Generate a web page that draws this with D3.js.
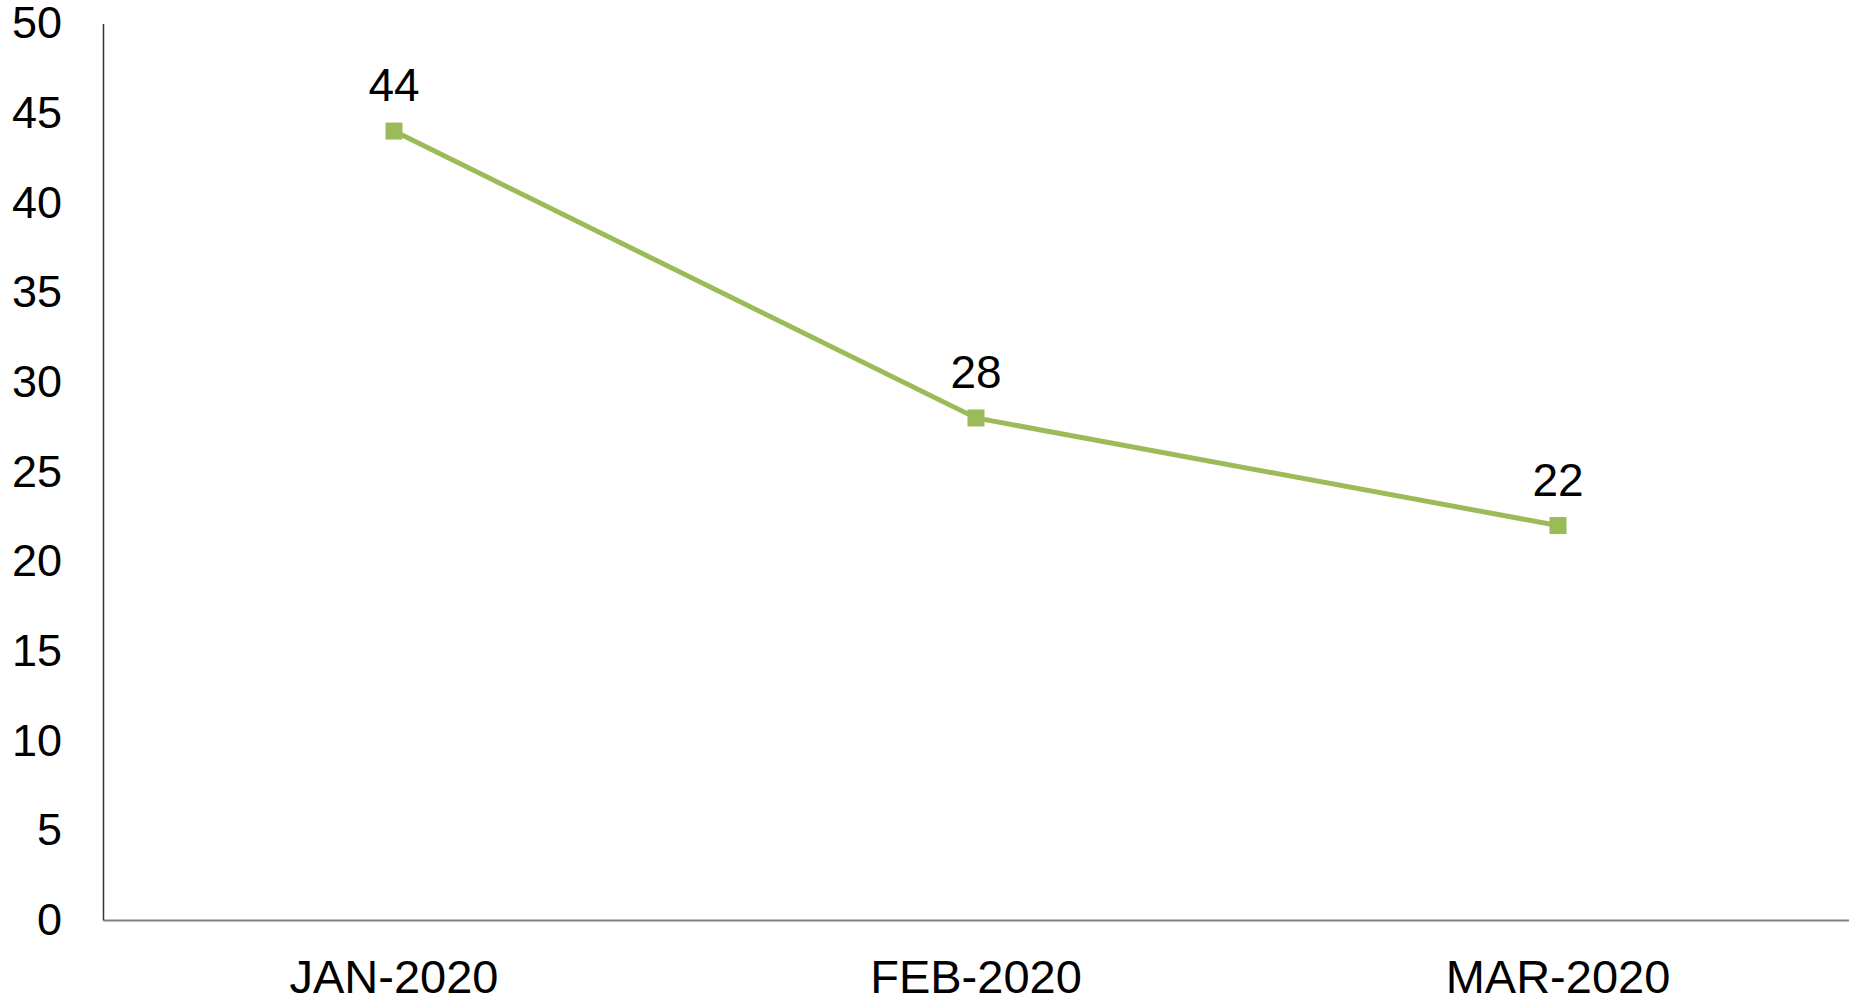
<!DOCTYPE html>
<html>
<head>
<meta charset="utf-8">
<script src="https://cdn.jsdelivr.net/npm/d3@7"></script>
<style>
  body { margin: 0; background: #fff; }
  svg { display: block; font-family: "Liberation Sans", Arial, sans-serif; }
</style>
</head>
<body>
<div id="chart-area"></div>
<script>
var months = ["JAN-2020", "FEB-2020", "MAR-2020"];
var counts = [44, 28, 22];
var yTicks = [0, 5, 10, 15, 20, 25, 30, 35, 40, 45, 50];

var W = 1849, H = 1002;
var margin = {top: 23.5, bottom: 82, left: 103, right: 0};
var width = W - margin.left - margin.right;
var height = H - margin.top - margin.bottom;

var data = months.map(function (m, i) { return {month: m, value: counts[i]}; });

var svg = d3.select("#chart-area").append("svg")
    .attr("width", W)
    .attr("height", H);

var g = svg.append("g")
    .attr("transform", "translate(" + margin.left + "," + margin.top + ")");

var x = d3.scaleBand()
    .domain(months)
    .range([0, width]);

var y = d3.scaleLinear()
    .domain([0, 50])
    .range([height, 0]);

// y axis
var leftAxis = d3.axisLeft(y)
    .tickValues(yTicks)
    .tickSize(0)
    .tickPadding(41);
var yG = g.append("g")
    .attr("class", "left axis")
    .call(leftAxis);
yG.select(".domain").attr("stroke", "#333").attr("stroke-width", 1.5);
yG.selectAll("text")
    .attr("font-size", "45px")
    .attr("fill", "#000")
    .attr("font-family", "Liberation Sans, Arial, sans-serif");

// x axis
var bottomAxis = d3.axisBottom(x).tickSize(0).tickPadding(40);
var xG = g.append("g")
    .attr("class", "bottom axis")
    .attr("transform", "translate(0," + height + ")")
    .call(bottomAxis);
xG.select(".domain").attr("stroke", "#808080").attr("stroke-width", 2);
xG.selectAll("text")
    .attr("font-size", "47px")
    .attr("fill", "#000")
    .attr("font-family", "Liberation Sans, Arial, sans-serif");

var cx = function (d) { return x(d.month) + x.bandwidth() / 2; };

// line
var line = d3.line()
    .x(cx)
    .y(function (d) { return y(d.value); });

g.append("path")
    .datum(data)
    .attr("fill", "none")
    .attr("stroke", "#9BBB59")
    .attr("stroke-width", 5)
    .attr("d", line);

// markers
var ms = 17;
g.selectAll("rect.marker")
    .data(data)
    .enter()
    .append("rect")
    .attr("class", "marker")
    .attr("x", function (d) { return cx(d) - ms / 2; })
    .attr("y", function (d) { return y(d.value) - ms / 2; })
    .attr("width", ms)
    .attr("height", ms)
    .attr("fill", "#9BBB59");

// value labels
g.selectAll("text.value")
    .data(data)
    .enter()
    .append("text")
    .attr("class", "value")
    .attr("x", cx)
    .attr("y", function (d) { return y(d.value) - 30; })
    .attr("text-anchor", "middle")
    .attr("font-size", "46px")
    .attr("fill", "#000")
    .text(function (d) { return d.value; });
</script>
</body>
</html>
